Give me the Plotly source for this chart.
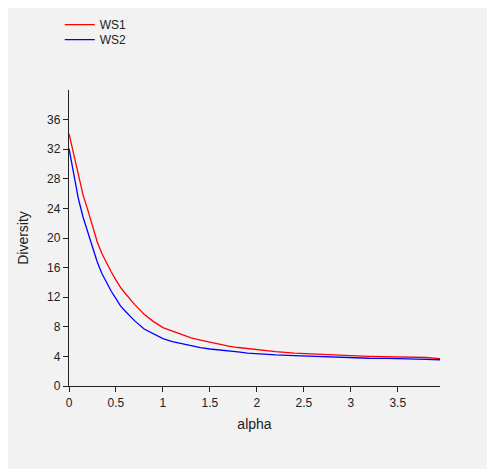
import plotly.graph_objects as go

alpha = [0.0, 0.05, 0.1, 0.15, 0.2, 0.25, 0.3, 0.35, 0.4, 0.45, 0.5, 0.55, 0.6, 0.7, 0.8, 0.9,
         1.0, 1.1, 1.2, 1.3, 1.4, 1.5, 1.6, 1.7, 1.8, 1.9, 2.0, 2.2, 2.4, 2.6, 2.8, 3.0,
         3.2, 3.4, 3.6, 3.8, 3.95]
ws1 = [34.1, 31.2, 28.4, 25.8, 23.8, 21.5, 19.5, 17.9, 16.6, 15.4, 14.3, 13.3, 12.5, 11.0, 9.7, 8.7,
       7.9, 7.4, 6.9, 6.5, 6.2, 5.9, 5.6, 5.4, 5.2, 5.05, 4.9, 4.65, 4.45, 4.3, 4.2, 4.1,
       4.0, 3.95, 3.9, 3.85, 3.7]
ws2 = [32.1, 28.5, 25.3, 22.8, 20.8, 18.6, 16.8, 15.2, 13.9, 12.8, 11.8, 10.8, 10.1, 8.8, 7.7, 7.0,
       6.4, 6.0, 5.7, 5.4, 5.2, 5.0, 4.9, 4.75, 4.6, 4.45, 4.35, 4.2, 4.1, 4.0, 3.9, 3.8,
       3.75, 3.72, 3.7, 3.6, 3.55]

x_ticks = [0, 0.5, 1, 1.5, 2, 2.5, 3, 3.5]
x_labels = ["0", "0.5", "1", "1.5", "2", "2.5", "3", "3.5"]
y_ticks = [0, 4, 8, 12, 16, 20, 24, 28, 32, 36]
y_labels = [str(v) for v in y_ticks]

font = "Liberation Sans, Arial, sans-serif"
bg = "#f2f2f2"

fig = go.Figure()
fig.add_trace(go.Scatter(x=alpha, y=ws1, mode="lines", name="WS1", legend="legend",
                         line=dict(color="#ff0000", width=1.3)))
fig.add_trace(go.Scatter(x=alpha, y=ws2, mode="lines", name="WS2", legend="legend2",
                         line=dict(color="#0000ff", width=1.3)))

leg = dict(xanchor="left", yanchor="top", bgcolor="rgba(0,0,0,0)",
           font=dict(size=12, color="#222222"))
fig.update_layout(
    width=487, height=461,
    margin=dict(l=61, r=55, t=82, b=83, autoexpand=False),
    paper_bgcolor=bg, plot_bgcolor=bg,
    font=dict(family=font, size=12, color="#222222"),
    showlegend=True,
    legend=dict(x=-0.025, y=1.270, **leg),
    legend2=dict(x=-0.025, y=1.219, **leg),
)
fig.update_xaxes(range=[0, 3.95], tickvals=x_ticks, ticktext=x_labels,
                 showgrid=False, zeroline=False, showline=True, linecolor="#222222",
                 linewidth=1.3, ticks="outside", ticklen=5, tickcolor="#222222",
                 title=dict(text="alpha", standoff=10))
fig.update_yaxes(range=[0, 40], tickvals=y_ticks, ticktext=y_labels,
                 showgrid=False, zeroline=False, showline=True, linecolor="#222222",
                 linewidth=1.3, ticks="outside", ticklen=5, tickcolor="#222222",
                 title=dict(text="Diversity", standoff=15))

fig.write_html("out.html")
